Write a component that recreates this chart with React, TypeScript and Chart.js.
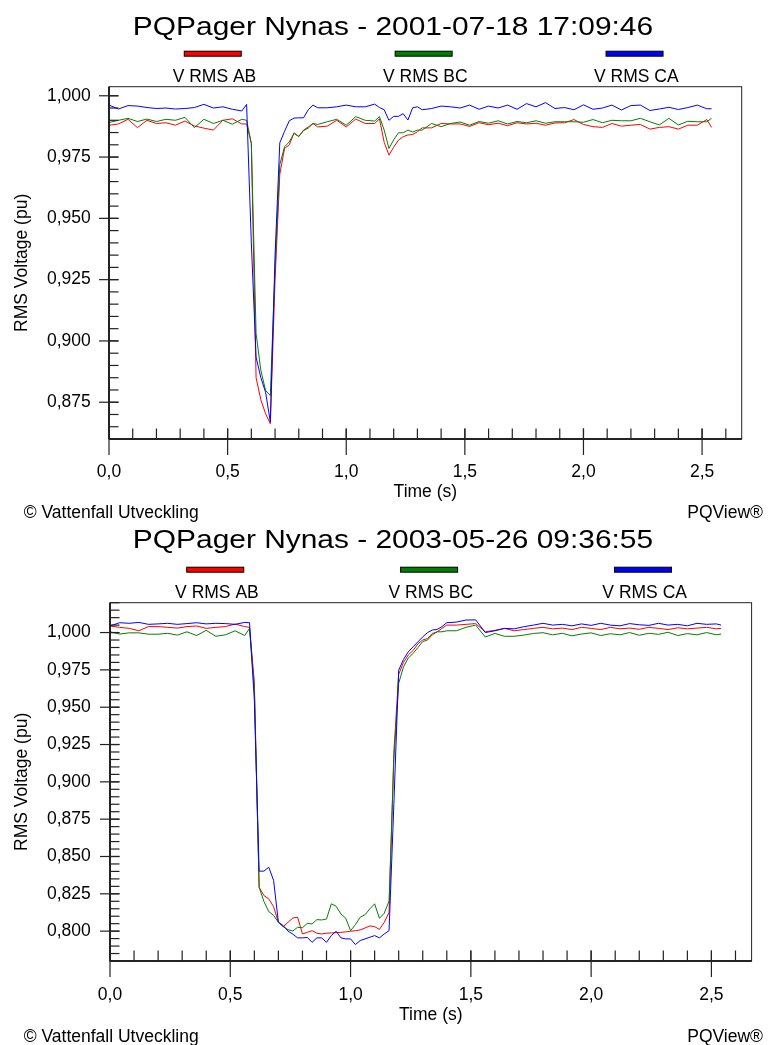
import React, { useEffect, useRef } from 'react';
import { Chart, registerables } from 'chart.js';

Chart.register(...registerables);

const FONT = '"Liberation Sans", Arial, Helvetica, sans-serif';

// ---------- shared ----------
const SERIES_NAMES = ['V RMS AB', 'V RMS BC', 'V RMS CA'];
const SERIES_COLORS = ['#ff0000', '#008000', '#0000ff'];
const X_TICKS = [0, 0.5, 1.0, 1.5, 2.0, 2.5];
const X_MAX = 2.667;
const X_TITLE = 'Time (s)';
const Y_TITLE = 'RMS Voltage (pu)';
const FOOTER_LEFT = '\u00A9 Vattenfall Utveckling';
const FOOTER_RIGHT = 'PQView\u00AE';

// ---------- chart 1 ----------
const TITLE_1 = 'PQPager Nynas - 2001-07-18 17:09:46';
const Y_TICKS_1 = [0.875, 0.9, 0.925, 0.95, 0.975, 1.0];
const TIME_1 = [
  0, 0.04, 0.08, 0.12, 0.16, 0.2, 0.24, 0.28, 0.32, 0.36, 0.4, 0.44, 0.48, 0.52, 0.56,
  0.58, 0.6, 0.62, 0.64, 0.66, 0.68, 0.7, 0.72, 0.74, 0.76, 0.78, 0.8, 0.82, 0.84, 0.86, 0.88,
  0.92, 0.96, 1.0, 1.04, 1.08, 1.12,
  1.14, 1.16, 1.18, 1.2, 1.22, 1.24, 1.26, 1.28, 1.3, 1.32,
  1.36, 1.4, 1.44, 1.48, 1.52, 1.56, 1.6, 1.64, 1.68, 1.72, 1.76, 1.8, 1.84, 1.88,
  1.92, 1.96, 2.0, 2.04, 2.08, 2.12, 2.16, 2.2, 2.24, 2.28, 2.32, 2.36, 2.4, 2.44, 2.48, 2.52, 2.54,
];
const AB_1 = [
  0.988, 0.9885, 0.9904, 0.987, 0.99, 0.9887, 0.989, 0.988, 0.9897, 0.9877, 0.9868, 0.986, 0.99, 0.9906, 0.9885,
  0.9885, 0.9806, 0.885, 0.876, 0.8703, 0.8662, 0.925, 0.968, 0.9785, 0.98, 0.9849, 0.9833, 0.986, 0.9873, 0.9887, 0.9873,
  0.9876, 0.99, 0.9873, 0.9905, 0.9887, 0.9887,
  0.9906, 0.981, 0.9758, 0.979, 0.9819, 0.9833, 0.984, 0.9842, 0.9853, 0.9869,
  0.9869, 0.9887, 0.9885, 0.9885, 0.9875, 0.989, 0.9882, 0.9888, 0.9878, 0.989, 0.9885, 0.9888, 0.988, 0.9889,
  0.989, 0.9903, 0.9883, 0.9874, 0.9871, 0.9887, 0.9876, 0.988, 0.9883, 0.9864, 0.9871, 0.9874, 0.9864, 0.988, 0.988, 0.9903, 0.9871,
];
const BC_1 = [
  0.9891, 0.99, 0.9908, 0.9895, 0.9905, 0.9895, 0.9904, 0.99, 0.9912, 0.987, 0.9904, 0.9887, 0.99, 0.9884, 0.9904,
  0.99, 0.9806, 0.903, 0.888, 0.8798, 0.8777, 0.93, 0.972, 0.9792, 0.9812, 0.9846, 0.9835, 0.9858, 0.9868, 0.9887, 0.9883,
  0.9894, 0.9904, 0.988, 0.9915, 0.99, 0.9897,
  0.9915, 0.986, 0.9785, 0.982, 0.9849, 0.9849, 0.986, 0.9852, 0.986, 0.986,
  0.9887, 0.9874, 0.9887, 0.9893, 0.988, 0.9895, 0.9888, 0.9898, 0.9885, 0.9895, 0.989, 0.9898, 0.9888, 0.9894,
  0.9894, 0.9894, 0.9892, 0.9903, 0.989, 0.99, 0.9898, 0.9898, 0.9908, 0.9894, 0.9881, 0.9908, 0.9881, 0.9896, 0.9894, 0.9894, 0.9908,
];
const CA_1 = [
  0.9962, 0.9946, 0.996, 0.9958, 0.9952, 0.9948, 0.995, 0.9946, 0.9948, 0.9952, 0.9965, 0.995, 0.9955, 0.9945, 0.9938,
  0.9965, 0.94, 0.8934, 0.885, 0.8791, 0.867, 0.935, 0.9808, 0.9855, 0.9898, 0.9909, 0.991, 0.991, 0.9943, 0.9962, 0.9951,
  0.9951, 0.9955, 0.9962, 0.9955, 0.9955, 0.9966,
  0.9952, 0.9943, 0.99, 0.9916, 0.9916, 0.9927, 0.9901, 0.9951, 0.9955, 0.9943,
  0.9948, 0.9958, 0.9955, 0.995, 0.9962, 0.9945, 0.9958, 0.995, 0.9962, 0.9945, 0.9968, 0.9955, 0.9972, 0.9948,
  0.9952, 0.9943, 0.9963, 0.9945, 0.995, 0.9962, 0.9942, 0.996, 0.9962, 0.994, 0.9946, 0.9953, 0.9944, 0.9952, 0.9962, 0.9947, 0.9947,
];

// ---------- chart 2 ----------
const TITLE_2 = 'PQPager Nynas - 2003-05-26 09:36:55';
const Y_TICKS_2 = [0.8, 0.825, 0.85, 0.875, 0.9, 0.925, 0.95, 0.975, 1.0];
const TIME_2 = [
  0, 0.04, 0.08, 0.12, 0.16, 0.2, 0.24, 0.28, 0.32, 0.36, 0.4, 0.44, 0.48, 0.52, 0.56,
  0.58, 0.6,
  0.62, 0.64, 0.66, 0.68, 0.7, 0.72, 0.74, 0.76, 0.78, 0.8, 0.82, 0.84, 0.86, 0.88,
  0.9, 0.92, 0.94, 0.96, 0.98, 1.0, 1.02, 1.04, 1.06, 1.08, 1.1, 1.12, 1.14, 1.16,
  1.18, 1.2, 1.22, 1.24, 1.26, 1.28, 1.3, 1.32, 1.34, 1.36, 1.38, 1.4,
  1.44, 1.48, 1.52, 1.56, 1.6, 1.64, 1.68, 1.72, 1.76, 1.8, 1.84, 1.88, 1.92, 1.96,
  2.0, 2.04, 2.08, 2.12, 2.16, 2.2, 2.24, 2.28, 2.32, 2.36, 2.4, 2.44, 2.48, 2.52, 2.54,
];
const AB_2 = [
  1.0044, 1.0035, 1.0028, 1.0012, 1.004, 1.004, 1.0035, 1.003, 1.004, 1.0044, 1.0028, 1.0035, 1.004, 1.0057, 1.004,
  1.0035, 0.967,
  0.8294, 0.8238, 0.8216, 0.8164, 0.8059, 0.803, 0.8059, 0.8088, 0.8093, 0.7981, 0.7992, 0.8003, 0.7986, 0.7981,
  0.7986, 0.7988, 0.799, 0.7992, 0.7995, 0.7999, 0.8003, 0.8008, 0.8021, 0.8035, 0.803, 0.8012, 0.8059, 0.8126,
  0.92, 0.972, 0.98, 0.985, 0.988, 0.9925, 0.995, 0.996, 0.9994, 1.0005, 1.0028, 1.005,
  1.005, 1.0055, 1.006, 1.0005, 1.0015, 1.0028, 1.0012, 1.002, 1.0028, 1.0035, 1.0025, 1.003, 1.002, 1.0035,
  1.0028, 1.002, 1.0035, 1.0025, 1.003, 1.0022, 1.0035, 1.0028, 1.002, 1.0032, 1.0025, 1.003, 1.0035, 1.0025, 1.0028,
];
const BC_2 = [
  1.0005, 0.999, 0.9998, 0.9998, 0.9989, 0.9989, 0.9995, 0.9983, 1.0005, 0.998, 1.0015, 0.9975, 0.9985, 1.0012, 0.998,
  1.0028, 0.962,
  0.8294, 0.8198, 0.8131, 0.8106, 0.8059, 0.803, 0.801, 0.8001, 0.8026, 0.8023, 0.8052, 0.8048, 0.8077, 0.8075,
  0.8081, 0.8183, 0.8167, 0.8115, 0.8086, 0.8003, 0.8043, 0.8093, 0.811, 0.8149, 0.8183, 0.8086, 0.812, 0.8201,
  0.915, 0.966, 0.977, 0.983, 0.986, 0.99, 0.994, 0.995, 0.9985, 1.0005, 1.0005, 1.0012,
  1.0012, 1.0035, 1.005, 0.997, 0.9994, 0.9975, 0.9975, 0.9983, 0.9994, 0.9999, 0.9985, 0.9995, 0.9978, 0.999,
  0.9998, 0.998, 0.9992, 0.9985, 1.0, 0.9982, 0.9995, 0.9988, 1.0002, 0.998, 0.9993, 0.9985, 1.0, 0.9985, 0.999,
];
const CA_2 = [
  1.0044, 1.0066, 1.0062, 1.0068, 1.0055, 1.0058, 1.0062, 1.0055, 1.006, 1.0066, 1.0058, 1.0062, 1.006, 1.0055, 1.0068,
  1.0066, 0.955,
  0.8402, 0.8402, 0.8428, 0.834, 0.806, 0.8037, 0.8, 0.798, 0.7955, 0.7955, 0.7958, 0.7925, 0.7955, 0.7955,
  0.7925, 0.797, 0.7999, 0.7955, 0.7948, 0.7948, 0.791, 0.7937, 0.7948, 0.7959, 0.797, 0.7955, 0.7981, 0.8003,
  0.885, 0.9748, 0.982, 0.9871, 0.9905, 0.9938, 0.9971, 1.0, 1.0017, 1.0021, 1.004, 1.0066,
  1.007, 1.0084, 1.0085, 1.0, 1.0012, 1.0028, 1.0025, 1.0039, 1.005, 1.0062, 1.005, 1.0055, 1.0045, 1.0058,
  1.0048, 1.0062, 1.005, 1.0045, 1.006, 1.0052, 1.0048, 1.0062, 1.005, 1.0055, 1.0045, 1.0062, 1.0055, 1.0058, 1.005,
];

// ---------- layout (positions only, no data) ----------
type Layout = {
  height: number; top: number; left: number; right: number; bottom: number;
  yMin: number; yMax: number; yLabelPad: number; xLabelPad: number; xAxisH: number;
  titleX: number; titleBase: number; legendLineY: number; legendLabelY: number; footerY: number;
};

const LAYOUT_1: Layout = {
  height: 522, top: 86.7, left: 109, right: 741.7, bottom: 439,
  yMin: 0.86, yMax: 1.0037, yLabelPad: 18.3, xLabelPad: 22.5, xAxisH: 63.5,
  titleX: 393, titleBase: 35, legendLineY: 53.7, legendLabelY: 76.7, footerY: 513.3,
};
const LAYOUT_2: Layout = {
  height: 523, top: 80.7, left: 110, right: 751.6, bottom: 439,
  yMin: 0.78, yMax: 1.02, yLabelPad: 19.3, xLabelPad: 23.5, xAxisH: 64.5,
  titleX: 393, titleBase: 25.5, legendLineY: 47.7, legendLabelY: 70.7, footerY: 514.7,
};

const commaFmt = (v: number, d: number) => Number(v).toFixed(d).replace('.', ',');

function makeDecorPlugin(title: string, yTicks: number[], L: Layout) {
  return {
    id: 'pqDecor',
    afterDatasetsDraw(chart: any) {
      const { ctx, chartArea: a, scales } = chart;
      const xs = scales.x;
      const ys = scales.y;
      const line = (x1: number, y1: number, x2: number, y2: number) => {
        ctx.beginPath();
        ctx.moveTo(x1, y1);
        ctx.lineTo(x2, y2);
        ctx.stroke();
      };
      ctx.save();
      ctx.strokeStyle = '#222';
      ctx.lineWidth = 1;
      // frame
      ctx.strokeRect(a.left, a.top, a.right - a.left, a.bottom - a.top);
      ctx.strokeStyle = '#000';
      ctx.lineWidth = 1.5;
      line(a.left, a.top, a.left, a.bottom);
      line(a.left, a.bottom, a.right, a.bottom);
      ctx.lineWidth = 1.2;
      ctx.strokeStyle = '#222';
      // x minor ticks (every 0.1 s)
      for (let i = 1; i * 0.1 <= xs.max + 1e-9; i++) {
        const px = xs.getPixelForValue(i * 0.1);
        line(px, a.bottom - 10.5, px, a.bottom);
      }
      // x major ticks
      for (const v of X_TICKS) {
        const px = xs.getPixelForValue(v);
        line(px, a.bottom - 10.5, px, a.bottom + 16);
      }
      // y minor ticks (every 0.005)
      const k0 = Math.ceil(ys.min / 0.005 - 1e-6);
      const k1 = Math.floor(ys.max / 0.005 + 1e-6);
      for (let k = k0; k <= k1; k++) {
        const py = ys.getPixelForValue(k * 0.005);
        line(a.left, py, a.left + 9.5, py);
      }
      for (const v of yTicks) {
        const py = ys.getPixelForValue(v);
        line(a.left - 10, py, a.left + 9.5, py);
      }
      ctx.restore();
    },
    afterDraw(chart: any) {
      const { ctx, chartArea: a } = chart;
      ctx.save();
      ctx.fillStyle = '#000';
      // title (slightly wide face, as in the original)
      ctx.save();
      ctx.font = `26px ${FONT}`;
      ctx.textAlign = 'center';
      ctx.textBaseline = 'alphabetic';
      ctx.translate(L.titleX, L.titleBase);
      ctx.scale(1.15, 1);
      ctx.fillText(title, 0, 0);
      ctx.restore();
      // legend
      const w = a.right - a.left;
      SERIES_NAMES.forEach((name, i) => {
        const cx = a.left + ((2 * i + 1) / 6) * w;
        ctx.fillStyle = SERIES_COLORS[i];
        ctx.fillRect(cx - 1.7 - 28.5, L.legendLineY - 2.5, 57, 5);
        ctx.strokeStyle = '#000';
        ctx.lineWidth = 1;
        ctx.strokeRect(cx - 1.7 - 28.5, L.legendLineY - 2.5, 57, 5);
        ctx.fillStyle = '#000';
        ctx.font = `17.5px ${FONT}`;
        ctx.textAlign = 'center';
        ctx.textBaseline = 'middle';
        ctx.fillText(name, cx, L.legendLabelY);
      });
      // footer
      ctx.font = `17.5px ${FONT}`;
      ctx.textBaseline = 'middle';
      ctx.textAlign = 'left';
      ctx.fillText(FOOTER_LEFT, 23.7, L.footerY);
      ctx.textAlign = 'right';
      ctx.fillText(FOOTER_RIGHT, 763, L.footerY);
      ctx.restore();
    },
  };
}

function PQChart(props: { title: string; time: number[]; series: number[][]; yTicks: number[]; layout: Layout }) {
  const { title, time, series, yTicks, layout: L } = props;
  const ref = useRef<HTMLCanvasElement | null>(null);

  useEffect(() => {
    if (!ref.current) return;
    const tickFont = { family: FONT, size: 17.5 };
    const chart = new Chart(ref.current, {
      type: 'line',
      data: {
        datasets: series.map((vals, i) => ({
          label: SERIES_NAMES[i],
          data: time.map((t, j) => ({ x: t, y: vals[j] })),
          borderColor: SERIES_COLORS[i],
          backgroundColor: SERIES_COLORS[i],
          borderWidth: 1,
          pointRadius: 0,
          fill: false,
          tension: 0,
          order: 2 - i,
        })),
      },
      options: {
        responsive: false,
        maintainAspectRatio: false,
        animation: false,
        events: [],
        layout: {
          padding: { top: L.top, left: 0, right: 774 - L.right, bottom: L.height - L.bottom - L.xAxisH },
        },
        plugins: {
          legend: { display: false },
          tooltip: { enabled: false },
          title: { display: false },
        },
        scales: {
          x: {
            type: 'linear',
            min: 0,
            max: X_MAX,
            afterBuildTicks: (s: any) => { s.ticks = X_TICKS.map((v) => ({ value: v })); },
            afterFit: (s: any) => { s.height = L.xAxisH; },
            grid: { display: false, drawTicks: false },
            border: { display: false },
            ticks: {
              padding: L.xLabelPad,
              maxRotation: 0,
              minRotation: 0,
              autoSkip: false,
              color: '#000',
              font: tickFont,
              callback: (v: any) => commaFmt(v, 1),
            },
            title: { display: true, text: X_TITLE, color: '#000', font: tickFont, padding: 0 },
          },
          y: {
            type: 'linear',
            min: L.yMin,
            max: L.yMax,
            afterBuildTicks: (s: any) => { s.ticks = yTicks.map((v) => ({ value: v })); },
            afterFit: (s: any) => { s.width = L.left; },
            grid: { display: false, drawTicks: false },
            border: { display: false },
            ticks: {
              padding: L.yLabelPad,
              autoSkip: false,
              color: '#000',
              font: tickFont,
              callback: (v: any) => commaFmt(v, 3),
            },
            title: { display: true, text: Y_TITLE, color: '#000', font: tickFont, padding: { top: 11.5, bottom: 0 } },
          },
        },
      },
      plugins: [makeDecorPlugin(title, yTicks, L)],
    } as any);
    return () => chart.destroy();
  }, []);

  return (
    <canvas
      ref={ref}
      width={774}
      height={L.height}
      style={{ display: 'block', width: 774, height: L.height }}
    />
  );
}

export default function App() {
  return (
    <div style={{ position: 'absolute', left: 0, top: 0, width: 774, height: 1045, background: '#fff' }}>
      <PQChart title={TITLE_1} time={TIME_1} series={[AB_1, BC_1, CA_1]} yTicks={Y_TICKS_1} layout={LAYOUT_1} />
      <PQChart title={TITLE_2} time={TIME_2} series={[AB_2, BC_2, CA_2]} yTicks={Y_TICKS_2} layout={LAYOUT_2} />
    </div>
  );
}
